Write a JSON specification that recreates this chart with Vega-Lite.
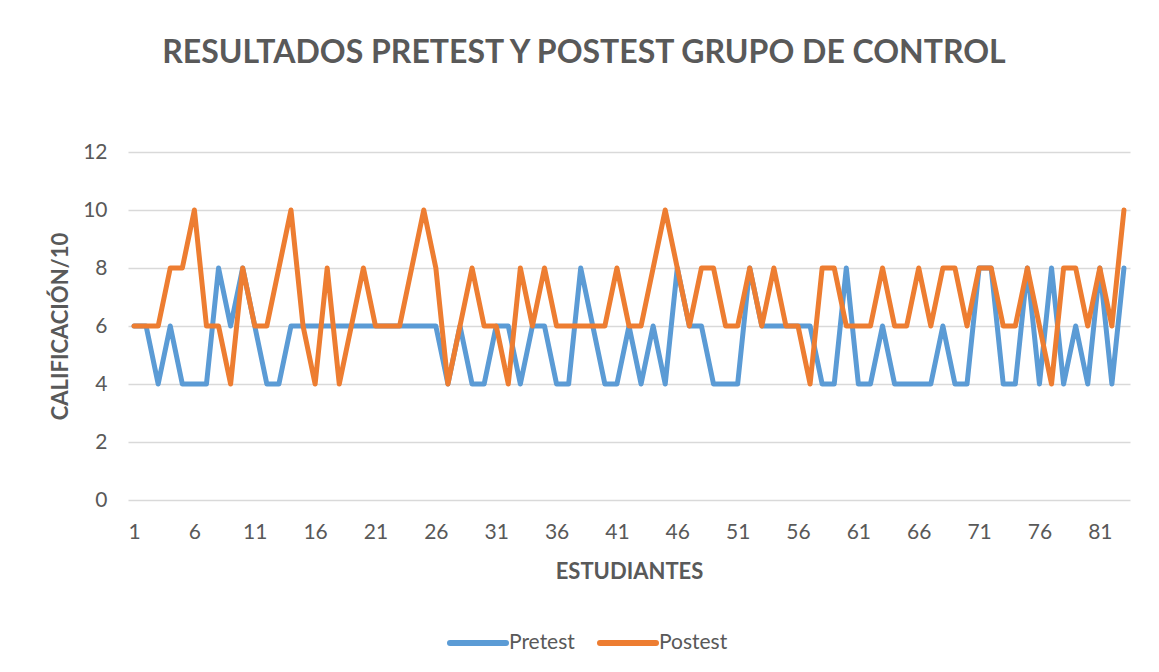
{
  "$schema": "https://vega.github.io/schema/vega-lite/v6.json",
  "width": 1002,
  "height": 348,
  "autosize": {"type": "none"},
  "padding": {"left": 128, "top": 152, "right": 29, "bottom": 172},
  "background": "white",
  "title": {
    "text": "RESULTADOS PRETEST Y POSTEST GRUPO DE CONTROL",
    "font": "Lato",
    "fontSize": 32,
    "fontWeight": "bold",
    "color": "#595959",
    "anchor": "middle",
    "baseline": "alphabetic",
    "dx": -45,
    "offset": 46
  },
  "data": {
    "values": [
      {"e":1,"Pretest":6,"Postest":6},{"e":2,"Pretest":6,"Postest":6},{"e":3,"Pretest":4,"Postest":6},{"e":4,"Pretest":6,"Postest":8},{"e":5,"Pretest":4,"Postest":8},
      {"e":6,"Pretest":4,"Postest":10},{"e":7,"Pretest":4,"Postest":6},{"e":8,"Pretest":8,"Postest":6},{"e":9,"Pretest":6,"Postest":4},{"e":10,"Pretest":8,"Postest":8},
      {"e":11,"Pretest":6,"Postest":6},{"e":12,"Pretest":4,"Postest":6},{"e":13,"Pretest":4,"Postest":8},{"e":14,"Pretest":6,"Postest":10},{"e":15,"Pretest":6,"Postest":6},
      {"e":16,"Pretest":6,"Postest":4},{"e":17,"Pretest":6,"Postest":8},{"e":18,"Pretest":6,"Postest":4},{"e":19,"Pretest":6,"Postest":6},{"e":20,"Pretest":6,"Postest":8},
      {"e":21,"Pretest":6,"Postest":6},{"e":22,"Pretest":6,"Postest":6},{"e":23,"Pretest":6,"Postest":6},{"e":24,"Pretest":6,"Postest":8},{"e":25,"Pretest":6,"Postest":10},
      {"e":26,"Pretest":6,"Postest":8},{"e":27,"Pretest":4,"Postest":4},{"e":28,"Pretest":6,"Postest":6},{"e":29,"Pretest":4,"Postest":8},{"e":30,"Pretest":4,"Postest":6},
      {"e":31,"Pretest":6,"Postest":6},{"e":32,"Pretest":6,"Postest":4},{"e":33,"Pretest":4,"Postest":8},{"e":34,"Pretest":6,"Postest":6},{"e":35,"Pretest":6,"Postest":8},
      {"e":36,"Pretest":4,"Postest":6},{"e":37,"Pretest":4,"Postest":6},{"e":38,"Pretest":8,"Postest":6},{"e":39,"Pretest":6,"Postest":6},{"e":40,"Pretest":4,"Postest":6},
      {"e":41,"Pretest":4,"Postest":8},{"e":42,"Pretest":6,"Postest":6},{"e":43,"Pretest":4,"Postest":6},{"e":44,"Pretest":6,"Postest":8},{"e":45,"Pretest":4,"Postest":10},
      {"e":46,"Pretest":8,"Postest":8},{"e":47,"Pretest":6,"Postest":6},{"e":48,"Pretest":6,"Postest":8},{"e":49,"Pretest":4,"Postest":8},{"e":50,"Pretest":4,"Postest":6},
      {"e":51,"Pretest":4,"Postest":6},{"e":52,"Pretest":8,"Postest":8},{"e":53,"Pretest":6,"Postest":6},{"e":54,"Pretest":6,"Postest":8},{"e":55,"Pretest":6,"Postest":6},
      {"e":56,"Pretest":6,"Postest":6},{"e":57,"Pretest":6,"Postest":4},{"e":58,"Pretest":4,"Postest":8},{"e":59,"Pretest":4,"Postest":8},{"e":60,"Pretest":8,"Postest":6},
      {"e":61,"Pretest":4,"Postest":6},{"e":62,"Pretest":4,"Postest":6},{"e":63,"Pretest":6,"Postest":8},{"e":64,"Pretest":4,"Postest":6},{"e":65,"Pretest":4,"Postest":6},
      {"e":66,"Pretest":4,"Postest":8},{"e":67,"Pretest":4,"Postest":6},{"e":68,"Pretest":6,"Postest":8},{"e":69,"Pretest":4,"Postest":8},{"e":70,"Pretest":4,"Postest":6},
      {"e":71,"Pretest":8,"Postest":8},{"e":72,"Pretest":8,"Postest":8},{"e":73,"Pretest":4,"Postest":6},{"e":74,"Pretest":4,"Postest":6},{"e":75,"Pretest":8,"Postest":8},
      {"e":76,"Pretest":4,"Postest":6},{"e":77,"Pretest":8,"Postest":4},{"e":78,"Pretest":4,"Postest":8},{"e":79,"Pretest":6,"Postest":8},{"e":80,"Pretest":4,"Postest":6},
      {"e":81,"Pretest":8,"Postest":8},{"e":82,"Pretest":4,"Postest":6},{"e":83,"Pretest":8,"Postest":10}
    ]
  },
  "transform": [{"fold": ["Pretest", "Postest"], "as": ["serie", "valor"]}],
  "mark": {"type": "line", "strokeWidth": 5, "strokeCap": "round", "strokeJoin": "round"},
  "encoding": {
    "x": {
      "field": "e",
      "type": "quantitative",
      "scale": {"domain": [0.5, 83.5], "nice": false, "zero": false},
      "axis": {
        "title": "ESTUDIANTES",
        "values": [1, 6, 11, 16, 21, 26, 31, 36, 41, 46, 51, 56, 61, 66, 71, 76, 81],
        "grid": false,
        "ticks": false,
        "tickSize": 0,
        "domain": false,
        "labelPadding": 32,
        "labelBaseline": "middle",
        "titleY": 71,
        "titleBaseline": "middle"
      }
    },
    "y": {
      "field": "valor",
      "type": "quantitative",
      "scale": {"domain": [0, 12], "nice": false},
      "axis": {
        "title": "CALIFICACIÓN/10",
        "values": [0, 2, 4, 6, 8, 10, 12],
        "grid": true,
        "ticks": false,
        "tickSize": 0,
        "domain": false,
        "labelPadding": 21,
        "titleX": -68,
        "titleY": 174,
        "titleAlign": "center",
        "titleBaseline": "middle"
      }
    },
    "color": {
      "field": "serie",
      "type": "nominal",
      "sort": ["Pretest", "Postest"],
      "scale": {"domain": ["Pretest", "Postest"], "range": ["#5B9BD5", "#ED7D31"]},
      "legend": {
        "title": null,
        "orient": "none",
        "direction": "horizontal",
        "legendX": 319,
        "legendY": 460,
        "symbolType": "stroke",
        "symbolSize": 3136,
        "symbolStrokeWidth": 6,
        "labelOffset": 0,
        "columnPadding": 13,
        "labelFont": "Lato",
        "labelFontSize": 21,
        "labelColor": "#595959",
        "encode": {"symbols": {"update": {"strokeCap": {"value": "round"}}}}
      }
    }
  },
  "config": {
    "view": {"stroke": null},
    "axis": {
      "labelFont": "Lato",
      "labelFontSize": 21,
      "labelColor": "#595959",
      "titleFont": "Lato",
      "titleFontSize": 22,
      "titleFontWeight": "bold",
      "titleColor": "#595959",
      "gridColor": "#d9d9d9",
      "gridWidth": 1.5
    }
  }
}
